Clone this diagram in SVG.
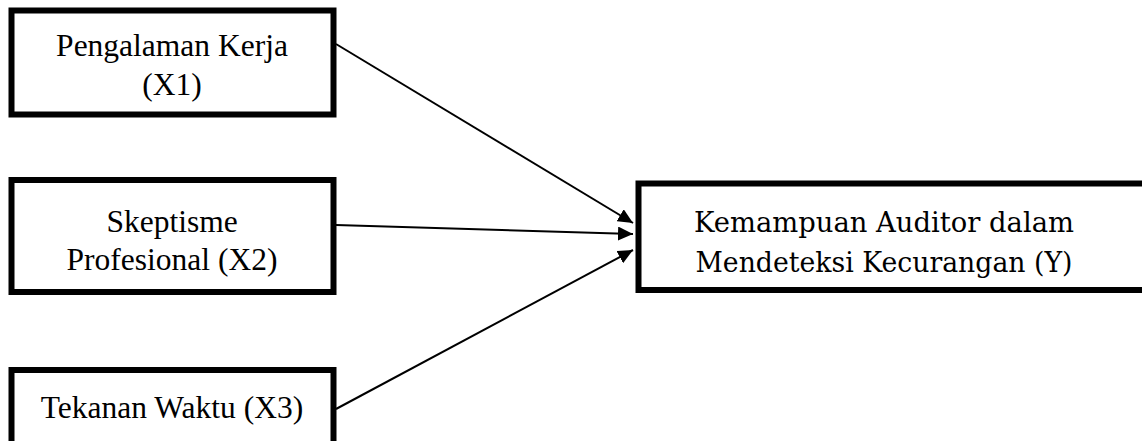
<svg xmlns="http://www.w3.org/2000/svg" width="1142" height="441" viewBox="0 0 1142 441">
  <style>
    .box { fill: #ffffff; stroke: #000000; stroke-width: 6; }
    .t { font-family: "Times New Roman", "Liberation Serif", Times, serif; font-size: 31.5px; fill: #000000; text-anchor: middle; }
    .ty { font-family: "DejaVu Serif", serif; font-size: 27px; fill: #000000; text-anchor: middle; }
    .conn { stroke: #000000; stroke-width: 2; fill: none; marker-end: url(#arrow); }
  </style>
  <defs>
    <marker id="arrow" markerUnits="userSpaceOnUse" markerWidth="16" markerHeight="14" refX="15" refY="7" orient="auto">
      <path d="M0,0 L15,7 L0,14 Z" fill="#000000"/>
    </marker>
  </defs>
  <rect x="0" y="0" width="1142" height="441" fill="#ffffff"/>
  <g id="node-x1">
    <rect class="box" x="11.5" y="10.5" width="322" height="104"/>
    <text class="t" x="172" y="56">Pengalaman Kerja</text>
    <text class="t" x="172" y="95">(X1)</text>
  </g>
  <g id="node-x2">
    <rect class="box" x="11.5" y="180" width="322" height="112"/>
    <text class="t" x="172" y="231.5">Skeptisme</text>
    <text class="t" x="172" y="270">Profesional (X2)</text>
  </g>
  <g id="node-x3">
    <rect class="box" x="11.5" y="370" width="322" height="110"/>
    <text class="t" x="172" y="418">Tekanan Waktu (X3)</text>
  </g>
  <g id="node-y">
    <rect class="box" x="638.5" y="183.5" width="520" height="106.5"/>
    <text class="ty" x="884" y="231.5" textLength="380" lengthAdjust="spacingAndGlyphs">Kemampuan Auditor dalam</text>
    <text class="ty" x="884" y="271.5" textLength="377" lengthAdjust="spacingAndGlyphs">Mendeteksi Kecurangan (Y)</text>
  </g>
  <g id="connectors">
    <line class="conn" x1="336" y1="44" x2="633" y2="223"/>
    <line class="conn" x1="336" y1="225" x2="633" y2="234"/>
    <line class="conn" x1="336" y1="409" x2="633" y2="250"/>
  </g>
</svg>
